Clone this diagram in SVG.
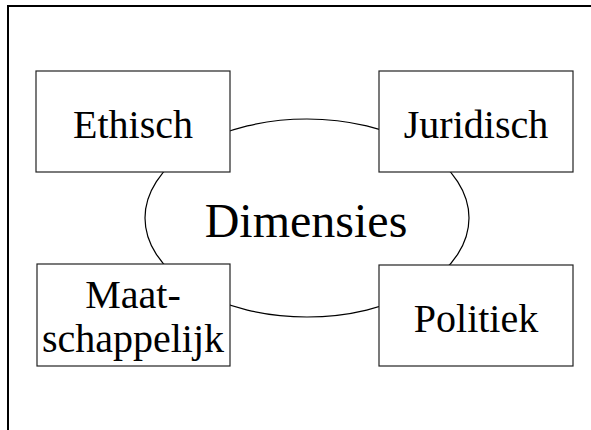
<svg xmlns="http://www.w3.org/2000/svg" width="591" height="430" viewBox="0 0 591 430">
<style>
.box{fill:#fff;stroke:#222;stroke-width:1.2}
.t{font-family:"Liberation Serif","Times New Roman",serif;font-size:40px;fill:#000;text-anchor:middle}
.big{font-size:48px}
</style>
<rect width="591" height="430" fill="#fff"/>
<g id="frame">
<path d="M8,430 V6 H591" fill="none" stroke="#000" stroke-width="2"/>
</g>
<g id="center">
<ellipse cx="307" cy="218" rx="162" ry="99" fill="#fff" stroke="#000" stroke-width="1.2"/>
<text class="t big" x="306" y="237">Dimensies</text>
</g>
<g id="ethisch">
<rect class="box" x="36" y="71" width="194" height="101"/>
<text class="t" x="133" y="138">Ethisch</text>
</g>
<g id="juridisch">
<rect class="box" x="379" y="71" width="194" height="101"/>
<text class="t" x="476" y="138">Juridisch</text>
</g>
<g id="maatschappelijk">
<rect class="box" x="37" y="264" width="193" height="102"/>
<text class="t" x="133" y="308">Maat-</text>
<text class="t" x="133" y="352">schappelijk</text>
</g>
<g id="politiek">
<rect class="box" x="379" y="265" width="194" height="101"/>
<text class="t" x="476" y="332">Politiek</text>
</g>
<g id="connectors"></g>
</svg>
